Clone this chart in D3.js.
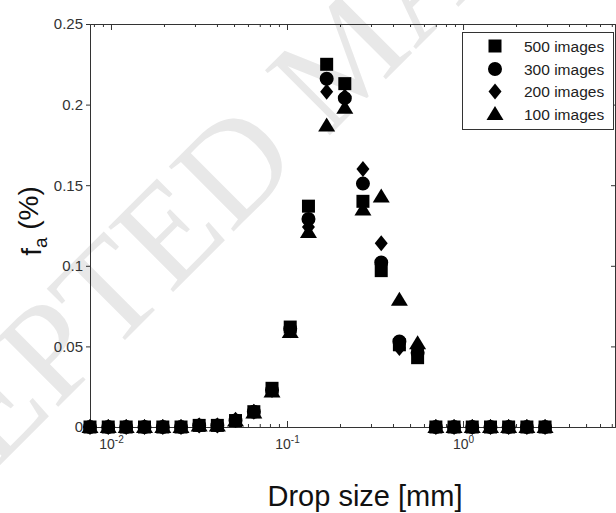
<!DOCTYPE html>
<html>
<head>
<meta charset="utf-8">
<script src="https://cdn.jsdelivr.net/npm/d3@7"></script>
<style>
  body { margin: 0; background: #fff; }
  svg { display: block; font-family: "Liberation Sans", Arial, sans-serif; }
</style>
</head>
<body>
<svg></svg>
<script>
// drop sizes in mm
const dropSize = [0.0076, 0.00965, 0.0122, 0.0155, 0.0197, 0.025, 0.0317, 0.0402, 0.051, 0.0648,
                  0.0822, 0.1043, 0.1324, 0.168, 0.213, 0.27, 0.343, 0.435, 0.552, 0.701,
                  0.889, 1.128, 1.432, 1.816, 2.305, 2.924]

const images500 = [0, 0, 0, 0, 0, 0, 0.001, 0.001, 0.004, 0.0095, 0.024, 0.062, 0.137, 0.225, 0.213,
                   0.140, 0.097, 0.051, 0.043, 0, 0, 0, 0, 0, 0, 0]
const images300 = [0, 0, 0, 0, 0, 0, 0.001, 0.001, 0.004, 0.0095, 0.023, 0.061, 0.129, 0.216, 0.204,
                   0.151, 0.102, 0.053, 0.046, 0, 0, 0, 0, 0, 0, 0]
const images200 = [0, 0, 0, 0, 0, 0, 0.001, 0.001, 0.0045, 0.0095, 0.023, 0.060, 0.124, 0.208, 0.205,
                   0.160, 0.114, 0.049, 0.048, 0, 0, 0, 0, 0, 0, 0]
const images100 = [0, 0, 0, 0, 0, 0, 0.001, 0.001, 0.004, 0.009, 0.022, 0.059, 0.121, 0.187, 0.198,
                   0.135, 0.143, 0.079, 0.052, 0, 0, 0, 0, 0, 0, 0]

const seriesNames = ['500 images', '300 images', '200 images', '100 images']
const yTicks = [0, 0.05, 0.1, 0.15, 0.2, 0.25]
const yTickLabels = ['0', '0.05', '0.1', '0.15', '0.2', '0.25']
const xMajor = [0.01, 0.1, 1]
const xMajorExp = ['-2', '-1', '0']

let width = 616
let height = 513
let plotLeft = 90
let plotRight = 615
let plotTop = 24
let plotBottom = 427
let axisColor = '#333'

let svg = d3.select('svg')
    .attr('width', width)
    .attr('height', height)

let xScale = d3.scaleLog()
                .domain([0.0076, 7.3])
                .range([plotLeft, plotRight])

let yScale = d3.scaleLinear()
                .domain([0, 0.25])
                .range([plotBottom, plotTop])

// watermark behind the plot
svg.append('text')
    .attr('transform', 'translate(338, 62) rotate(-45)')
    .attr('x', -820)
    .attr('y', 46)
    .style('font-family', '"Liberation Serif", "Times New Roman", serif')
    .style('font-size', '140px')
    .style('fill', '#e8e8e8')
    .text('ACCEPTED MANUSCRIPT')

// minor ticks: every log tick that is not a power of ten
let minorTicks = xScale.ticks().filter(d => xMajor.indexOf(d) < 0)

function styleAxis(g) {
  g.select('.domain').attr('stroke', axisColor)
  g.selectAll('.tick line').attr('stroke', axisColor)
  g.selectAll('.tick text')
    .attr('fill', '#333')
    .style('font-size', '15px')
    .style('font-family', '"Liberation Sans", Arial, sans-serif')
}

// bottom axis, ticks pointing in
svg.append('g')
    .attr('transform', `translate(0, ${plotBottom})`)
    .call(d3.axisBottom(xScale).tickValues(minorTicks).tickSize(-3).tickFormat(''))
    .call(styleAxis)

let xMajorAxis = svg.append('g')
    .attr('transform', `translate(0, ${plotBottom})`)
    .call(d3.axisBottom(xScale).tickValues(xMajor).tickSize(-6).tickSizeOuter(0).tickPadding(12))
    .call(styleAxis)

// labels as 10 with a superscript exponent
xMajorAxis.selectAll('.tick text')
    .text('')
    .style('font-size', '14px')
    .each(function (d, i) {
      let t = d3.select(this)
      t.append('tspan').text('10')
      t.append('tspan')
        .attr('dy', '-0.6em')
        .style('font-size', '10px')
        .text(xMajorExp[i])
    })

// top axis
svg.append('g')
    .attr('transform', `translate(0, ${plotTop})`)
    .call(d3.axisTop(xScale).tickValues(minorTicks).tickSize(-3).tickFormat(''))
    .call(styleAxis)

svg.append('g')
    .attr('transform', `translate(0, ${plotTop})`)
    .call(d3.axisTop(xScale).tickValues(xMajor).tickSize(-6).tickSizeOuter(0).tickFormat(''))
    .call(styleAxis)

// left axis, ticks pointing out
svg.append('g')
    .attr('transform', `translate(${plotLeft}, 0)`)
    .call(d3.axisLeft(yScale)
            .tickValues(yTicks)
            .tickSize(4)
            .tickSizeOuter(0)
            .tickPadding(3)
            .tickFormat((d, i) => yTickLabels[i]))
    .call(styleAxis)

// right axis
svg.append('g')
    .attr('transform', `translate(${plotRight}, 0)`)
    .call(d3.axisRight(yScale).tickValues(yTicks).tickSize(-4).tickSizeOuter(0).tickFormat(''))
    .call(styleAxis)

// marker shapes
const diamond = {
  draw(ctx) {
    ctx.moveTo(0, -8)
    ctx.lineTo(6.5, 0)
    ctx.lineTo(0, 8)
    ctx.lineTo(-6.5, 0)
    ctx.closePath()
  }
}
const triangle = {
  draw(ctx) {
    ctx.moveTo(0, -8)
    ctx.lineTo(8.5, 6)
    ctx.lineTo(-8.5, 6)
    ctx.closePath()
  }
}

let shapes = [
  d3.symbol().type(d3.symbolSquare).size(169)(),
  d3.symbol().type(d3.symbolCircle).size(154)(),
  d3.symbol().type(diamond)(),
  d3.symbol().type(triangle)()
]

let allSeries = [images500, images300, images200, images100]

allSeries.forEach((values, s) => {
  svg.append('g')
    .selectAll('path')
    .data(values)
    .enter()
    .append('path')
      .attr('d', shapes[s])
      .attr('transform', (d, i) => `translate(${xScale(dropSize[i])}, ${yScale(d)})`)
      .attr('fill', '#000')
})

// legend
let legend = svg.append('g')

legend.append('rect')
    .attr('x', 462.5)
    .attr('y', 32.5)
    .attr('width', 151)
    .attr('height', 97)
    .attr('fill', '#fff')
    .attr('stroke', axisColor)

let legendRows = [46, 69, 91.5, 114]

legend.selectAll('.entry')
  .data(seriesNames)
  .enter()
  .append('g')
    .attr('transform', (d, i) => `translate(0, ${legendRows[i]})`)
    .each(function (d, i) {
      let g = d3.select(this)
      g.append('path')
        .attr('d', shapes[i])
        .attr('transform', 'translate(495, 0)')
        .attr('fill', '#000')
      g.append('text')
        .attr('x', 524)
        .attr('y', 0)
        .attr('dy', '0.36em')
        .style('font-size', '15.5px')
        .style('fill', '#222')
        .text(d)
    })

// x-axis label
svg.append('text')
    .attr('x', 365)
    .attr('y', 506)
    .style('text-anchor', 'middle')
    .style('font-size', '29px')
    .style('fill', '#111')
    .text('Drop size [mm]')

// y-axis label
let yLabel = svg.append('text')
    .attr('transform', 'translate(41, 221) rotate(-90)')
    .style('text-anchor', 'middle')
    .style('font-size', '28px')
    .style('fill', '#111')

yLabel.append('tspan').text('f')
yLabel.append('tspan')
    .attr('dy', '0.3em')
    .style('font-size', '19px')
    .text('a')
yLabel.append('tspan')
    .attr('dy', '-0.3em')
    .text(' (%)')
</script>
</body>
</html>
